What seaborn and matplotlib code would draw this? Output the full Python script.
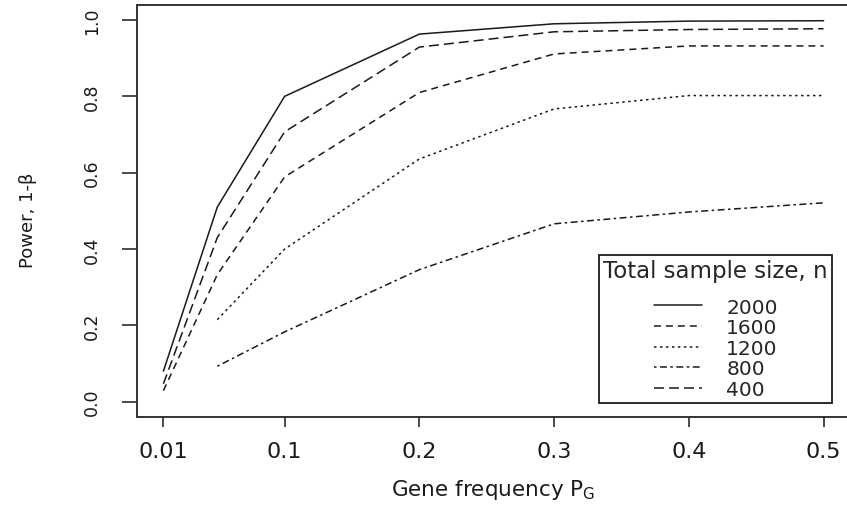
import pandas as pd
import numpy as np
import seaborn as sns
import matplotlib.pyplot as plt
from matplotlib.lines import Line2D

# gene frequency values and power for each total sample size
freq = [0.01, 0.05, 0.1, 0.2, 0.3, 0.4, 0.5]
power_2000 = [0.080, 0.510, 0.800, 0.963, 0.990, 0.997, 0.998]
power_1600 = [0.047, 0.430, 0.707, 0.929, 0.969, 0.975, 0.977]
power_1200 = [0.029, 0.333, 0.589, 0.810, 0.911, 0.932, 0.932]
power_800 = [np.nan, 0.215, 0.400, 0.636, 0.767, 0.802, 0.802]
power_400 = [np.nan, 0.093, 0.183, 0.346, 0.466, 0.497, 0.521]
sizes = ['2000', '1600', '1200', '800', '400']
xticks = [0.01, 0.1, 0.2, 0.3, 0.4, 0.5]
xticklabels = ['0.01', '0.1', '0.2', '0.3', '0.4', '0.5']
yticks = [0.0, 0.2, 0.4, 0.6, 0.8, 1.0]

df = pd.DataFrame({'freq': freq * 5,
                   'power': power_2000 + power_1600 + power_1200 + power_800 + power_400,
                   'n': np.repeat(sizes, len(freq))}).dropna()

sns.set_theme(style='ticks')
plt.rcParams['font.family'] = ['DejaVu Sans']
plt.rcParams['lines.scale_dashes'] = False

fig = plt.figure(figsize=(8.47, 5.06), dpi=100)
ax = fig.add_axes([137 / 847, 88 / 506, 713 / 847, 412.3 / 506])

# line styles used on the curves (the legend in the original uses another order)
curve_dashes = {'2000': '', '1600': (7.2, 3.6), '1200': (5, 3.6),
                '800': (1.8, 2.5), '400': (1.8, 2.5, 5, 2.5)}
sns.lineplot(data=df, x='freq', y='power', style='n', dashes=curve_dashes,
             color='#1a1a1a', lw=1.1, legend=False, estimator=None, ax=ax)

ax.set_xlim(-0.0096, 0.5196)
ax.set_ylim(-0.04, 1.04)
ax.set_xticks(xticks)
ax.set_xticklabels(xticklabels)
ax.set_yticks(yticks)
ax.set_yticklabels(['0.0', '0.2', '0.4', '0.6', '0.8', '1.0'])
ax.tick_params(axis='x', length=7.2, width=1.1, pad=10, labelsize=16, colors='#1a1a1a')
ax.tick_params(axis='y', length=10.8, width=1.1, pad=15, labelsize=12.5, colors='#1a1a1a',
               labelrotation=90)
for lab in ax.get_yticklabels():
    lab.set_va('center')
for sp in ax.spines.values():
    sp.set_color('#333333')
    sp.set_linewidth(1.4)
ax.spines['right'].set_visible(False)

ax.set_xlabel('Gene frequency P$_\\mathregular{G}$', fontsize=15.5, color='#1a1a1a')
ax.set_ylabel('Power, 1-β', fontsize=13, color='#1a1a1a')
ax.xaxis.set_label_coords(0.5, -0.145)
ax.yaxis.set_label_coords(-0.14, 0.48)

legend_dashes = ['', (5, 3.6), (1.8, 2.5), (1.8, 2.5, 5, 2.5), (7.2, 3.6)]
handles = []
for d in legend_dashes:
    if d == '':
        handles.append(Line2D([], [], color='#1a1a1a', lw=1.1))
    else:
        handles.append(Line2D([], [], color='#1a1a1a', lw=1.1, dashes=d))
leg = ax.legend(handles, sizes, title='Total sample size, n', fontsize=14.5, title_fontsize=16.5,
                loc='lower right', bbox_to_anchor=(832 / 847, 102 / 506),
                bbox_transform=fig.transFigure, frameon=True, fancybox=False,
                framealpha=1, edgecolor='#1a1a1a', borderaxespad=0, borderpad=0.2,
                labelspacing=0.08, handlelength=2.4, handletextpad=1.2)
leg.get_frame().set_linewidth(1.3)
# extra room between the title and the entries, as in the original
leg._legend_box.sep = 11

plt.savefig('out.png', dpi=100)
